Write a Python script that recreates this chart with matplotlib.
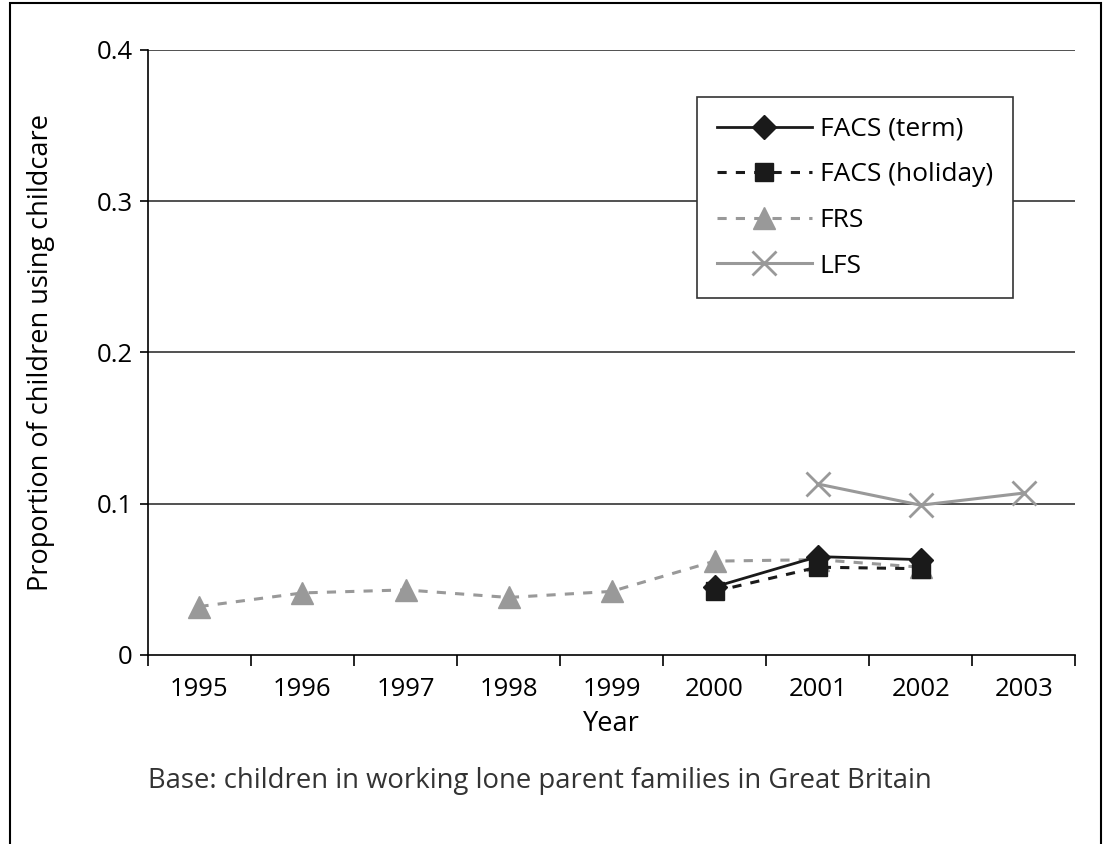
import numpy as np
import matplotlib.pyplot as plt
from matplotlib.patches import Rectangle

plt.rcParams['font.family'] = ['Open Sans', 'DejaVu Sans']

years = ['1995', '1996', '1997', '1998', '1999', '2000', '2001', '2002', '2003']
facs_term = [None, None, None, None, None, 0.045, 0.065, 0.063, None]
facs_holiday = [None, None, None, None, None, 0.042, 0.058, 0.057, None]
frs = [0.032, 0.041, 0.043, 0.038, 0.042, 0.062, 0.063, 0.058, None]
lfs = [None, None, None, None, None, None, 0.113, 0.099, 0.107]

def arr(v):
    return np.array([np.nan if a is None else a for a in v], dtype=float)

x = np.arange(len(years))

fig = plt.figure(figsize=(11.04, 8.44), dpi=100)
ax = fig.add_axes([0.134, 0.224, 0.840, 0.717])

# frame round the whole figure
fig.patches.append(Rectangle((0.009, -0.01), 0.988, 1.007, transform=fig.transFigure,
                             fill=False, edgecolor='black', linewidth=1.5))

for yv in [0.1, 0.2, 0.3, 0.4]:
    ax.axhline(yv, color='#222222', linewidth=1.1, zorder=1)

grey = '#999999'
dark = '#1a1a1a'
ax.plot(x, arr(frs), color=grey, linestyle=(0, (3, 3)), linewidth=2.2,
        marker='^', markersize=16, markerfacecolor=grey, markeredgecolor=grey, label='FRS', zorder=3)
ax.plot(x, arr(facs_holiday), color=dark, linestyle=(0, (3, 3)), linewidth=2.2,
        marker='s', markersize=13, markerfacecolor=dark, markeredgecolor=dark, label='FACS (holiday)', zorder=4)
ax.plot(x, arr(facs_term), color=dark, linestyle='-', linewidth=2,
        marker='D', markersize=12, markerfacecolor=dark, markeredgecolor=dark, label='FACS (term)', zorder=3.5)
ax.plot(x, arr(lfs), color=grey, linestyle='-', linewidth=2.2,
        marker='x', markersize=17, markeredgewidth=2, label='LFS', zorder=3)

ax.set_xlim(-0.5, len(years) - 0.5)
ax.set_ylim(0, 0.4)
ax.set_yticks([0, 0.1, 0.2, 0.3, 0.4])
ax.set_yticklabels(['0', '0.1', '0.2', '0.3', '0.4'])
ax.set_xticks(x)
ax.set_xticklabels(years)
ax.set_xticks(np.arange(-0.5, len(years)), minor=True)
ax.tick_params(axis='x', which='major', length=0, labelsize=18.5, pad=16)
ax.tick_params(axis='x', which='minor', length=8, width=1.2, direction='out')
ax.tick_params(axis='y', length=6, width=1.2, labelsize=18.5, pad=5)

for s in ['top', 'right']:
    ax.spines[s].set_visible(False)
ax.spines['left'].set_linewidth(1.2)
ax.spines['bottom'].set_linewidth(1.2)

ax.set_xlabel('Year', fontsize=19.5, labelpad=6)
ax.set_ylabel('Proportion of children using childcare', fontsize=19.5, labelpad=30)

h, l = ax.get_legend_handles_labels()
order = [2, 1, 0, 3]
leg = ax.legend([h[i] for i in order], [l[i] for i in order], loc='upper left',
                bbox_to_anchor=(0.592, 0.922), fontsize=19, handlelength=3.6,
                frameon=True, fancybox=False, edgecolor='#333333', framealpha=1,
                borderpad=0.75, labelspacing=0.78, handletextpad=0.3, borderaxespad=0)
leg.get_frame().set_linewidth(1.2)

fig.text(0.134, 0.066, 'Base: children in working lone parent families in Great Britain',
         fontsize=19.8, color='#333333', transform=fig.transFigure)

fig.savefig('out.png', dpi=100)
